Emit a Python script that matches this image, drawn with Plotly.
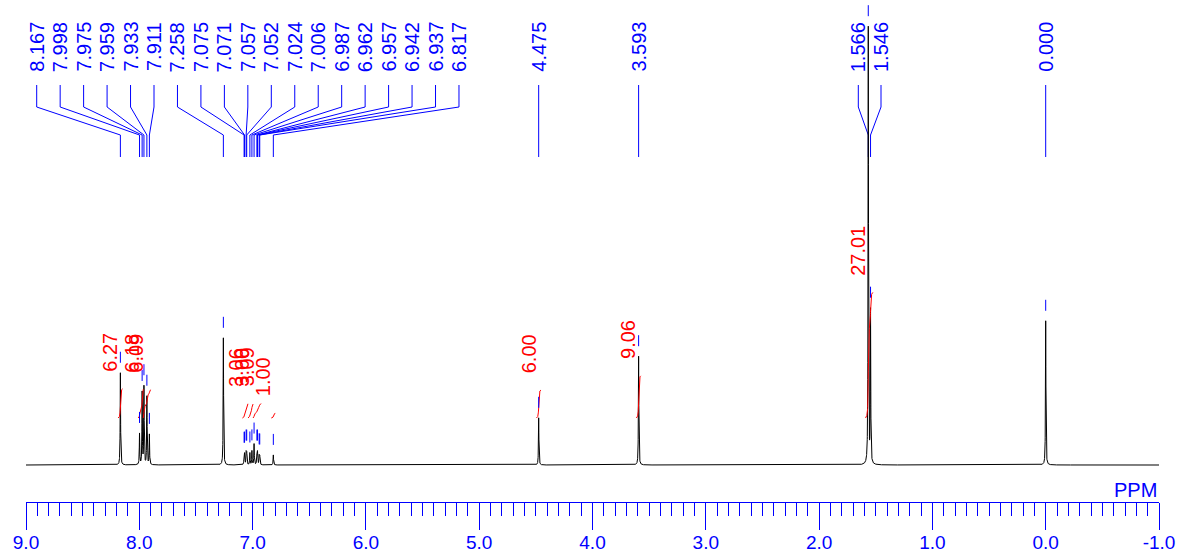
import numpy as np
import plotly.graph_objects as go

# ---------------- data ----------------
peak_ppm = [8.167, 7.998, 7.975, 7.959, 7.933, 7.911, 7.258,
            7.075, 7.071, 7.057, 7.052, 7.024, 7.006, 6.987,
            6.962, 6.957, 6.942, 6.937, 6.817,
            4.475, 3.593, 1.566, 1.546, 0.000]
peak_height = [21.1, 7.1, 16.5, 17.8, 15.6, 6.9, 29.1,
               2.2, 2.2, 2.75, 2.75, 2.75, 3.2, 4.8,
               2.75, 2.75, 2.0, 2.0, 2.3,
               10.8, 24.9, 100.0, 34.8, 33.0]
peak_labels = ["8.167", "7.998", "7.975", "7.959", "7.933", "7.911", "7.258",
               "7.075", "7.071", "7.057", "7.052", "7.024", "7.006", "6.987",
               "6.962", "6.957", "6.942", "6.937", "6.817",
               "4.475", "3.593", "1.566", "1.546", "0.000"]

integral_values = [6.27, 6.18, 6.09, 3.06, 3.00, 3.09, 1.00, 6.00, 9.06, 27.01]
integral_from = [8.187, 8.01, 7.965, 7.09, 7.040, 6.996, 6.835, 4.495, 3.613, 1.590]
integral_to = [8.147, 7.965, 7.90, 7.040, 6.996, 6.925, 6.800, 4.455, 3.573, 1.525]

tick_vals = [9.0, 8.0, 7.0, 6.0, 5.0, 4.0, 3.0, 2.0, 1.0, 0.0, -1.0]
tick_text = ["9.0", "8.0", "7.0", "6.0", "5.0", "4.0", "3.0", "2.0", "1.0", "0.0", "-1.0"]

# ---------------- layout constants ----------------
W, H = 1181, 554
ML, MR, MT, MB = 26, 22, 0, 52
PW = W - ML - MR
PH = H - MT - MB
X0, X1 = 9.0, -1.0
PX_PER_PPM = PW / (X0 - X1)
BASE_PX = 465.0
PX_PER_UNIT = 4.37
YMAX = BASE_PX / PX_PER_UNIT
YMIN = -(PH - BASE_PX) / PX_PER_UNIT
BLUE = "#0000ff"
RED = "#ff0000"
FONT = "Liberation Sans, Arial, sans-serif"
HWHM = 0.0022


def px2ppm(px):
    return X0 - (px - ML) / PX_PER_PPM


def ppm2px(p):
    return ML + (X0 - p) * PX_PER_PPM


def py2y(py):
    return (BASE_PX - py) / PX_PER_UNIT


# ---------------- spectrum ----------------
x = np.linspace(X0, X1, 20001)
spec = np.zeros_like(x)
for p, h in zip(peak_ppm, peak_height):
    spec += h * HWHM ** 2 / (HWHM ** 2 + (x - p) ** 2)


def spec_at(p):
    return float(np.sum([h * HWHM ** 2 / (HWHM ** 2 + (p - q) ** 2)
                         for q, h in zip(peak_ppm, peak_height)]))


fig = go.Figure()

# ---------------- peak label connectors ----------------
n_arom = 19
label_px = [36.7 + 23.46 * i for i in range(n_arom)]
label_px += [ppm2px(4.475), ppm2px(3.593), 858.3, 881.0, ppm2px(0.000)]

cx, cy = [], []
for lp, p in zip(label_px, peak_ppm):
    lx = px2ppm(lp)
    cx += [lx, lx, p, p, None]
    cy += [py2y(85), py2y(107), py2y(135), py2y(157), None]
fig.add_trace(go.Scatter(x=cx, y=cy, mode="lines",
                         line=dict(color=BLUE, width=1), hoverinfo="skip"))

# spectrum
fig.add_trace(go.Scatter(x=x, y=spec, mode="lines",
                         line=dict(color="black", width=1), hoverinfo="skip"))

# ---------------- integrals ----------------
INT_BASE = py2y(418)
INT_SCALE = 4.65 / PX_PER_UNIT
ix, iy = [], []
int_labels = []
for v, a, b in zip(integral_values, integral_from, integral_to):
    m = (x <= a) & (x >= b)
    xs = x[m]
    ys = spec[m]
    cum = np.concatenate([[0.0], np.cumsum((ys[1:] + ys[:-1]) / 2.0)])
    frac = cum / cum[-1]
    yint = INT_BASE + frac * v * INT_SCALE
    ix += list(xs) + [None]
    iy += list(yint) + [None]
    xc = float(xs[np.argmin(np.abs(frac - 0.5))])
    int_labels.append((xc, INT_BASE + v * INT_SCALE, v))
fig.add_trace(go.Scatter(x=ix, y=iy, mode="lines",
                         line=dict(color=RED, width=1), hoverinfo="skip"))

# ---------------- peak markers ----------------
mx, my = [], []
for p in peak_ppm:
    top = spec_at(p)
    mx += [p, p, None]
    my += [top + 10 / PX_PER_UNIT, top + 21 / PX_PER_UNIT, None]
fig.add_trace(go.Scatter(x=mx, y=my, mode="lines",
                         line=dict(color=BLUE, width=1), hoverinfo="skip"))

annotations = []
for lp, txt in zip(label_px, peak_labels):
    annotations.append(dict(x=px2ppm(lp), y=1 - 47 / PH, xref="x", yref="paper",
                            text=txt, textangle=-90, showarrow=False,
                            xanchor="center", yanchor="middle",
                            font=dict(family=FONT, size=20, color=BLUE)))
for xc, ytop, v in int_labels:
    annotations.append(dict(x=xc, y=ytop, xref="x", yref="y",
                            text="%.2f" % v, textangle=-90, showarrow=False,
                            xanchor="center", yanchor="bottom",
                            xshift=-10, yshift=15,
                            font=dict(family=FONT, size=20, color=RED)))
annotations.append(dict(x=(1135 - ML) / PW, y=(PH - 490 + MT) / PH, xref="paper", yref="paper",
                        text="PPM", showarrow=False, xanchor="center", yanchor="middle",
                        font=dict(family=FONT, size=20, color=BLUE)))

fig.update_layout(
    width=W, height=H,
    margin=dict(l=ML, r=MR, t=MT, b=MB),
    paper_bgcolor="white", plot_bgcolor="white",
    showlegend=False,
    annotations=annotations,
    xaxis=dict(range=[X0, X1], showgrid=False, zeroline=False,
               showline=True, linecolor=BLUE, linewidth=1,
               ticks="outside", ticklen=27, tickwidth=1, tickcolor=BLUE,
               tickmode="array", tickvals=tick_vals, ticktext=tick_text,
               tickfont=dict(family=FONT, size=19, color=BLUE),
               ticklabelstandoff=-4,
               minor=dict(dtick=0.1, tick0=0, ticks="outside", ticklen=13,
                          tickwidth=1, tickcolor=BLUE, showgrid=False),
               automargin=False, fixedrange=True),
    yaxis=dict(range=[YMIN, YMAX], visible=False, showgrid=False,
               zeroline=False, fixedrange=True),
)

fig.write_html("out.html",
               config={"displayModeBar": False},
               post_script="document.body.style.margin='0';document.body.style.overflow='hidden';")
